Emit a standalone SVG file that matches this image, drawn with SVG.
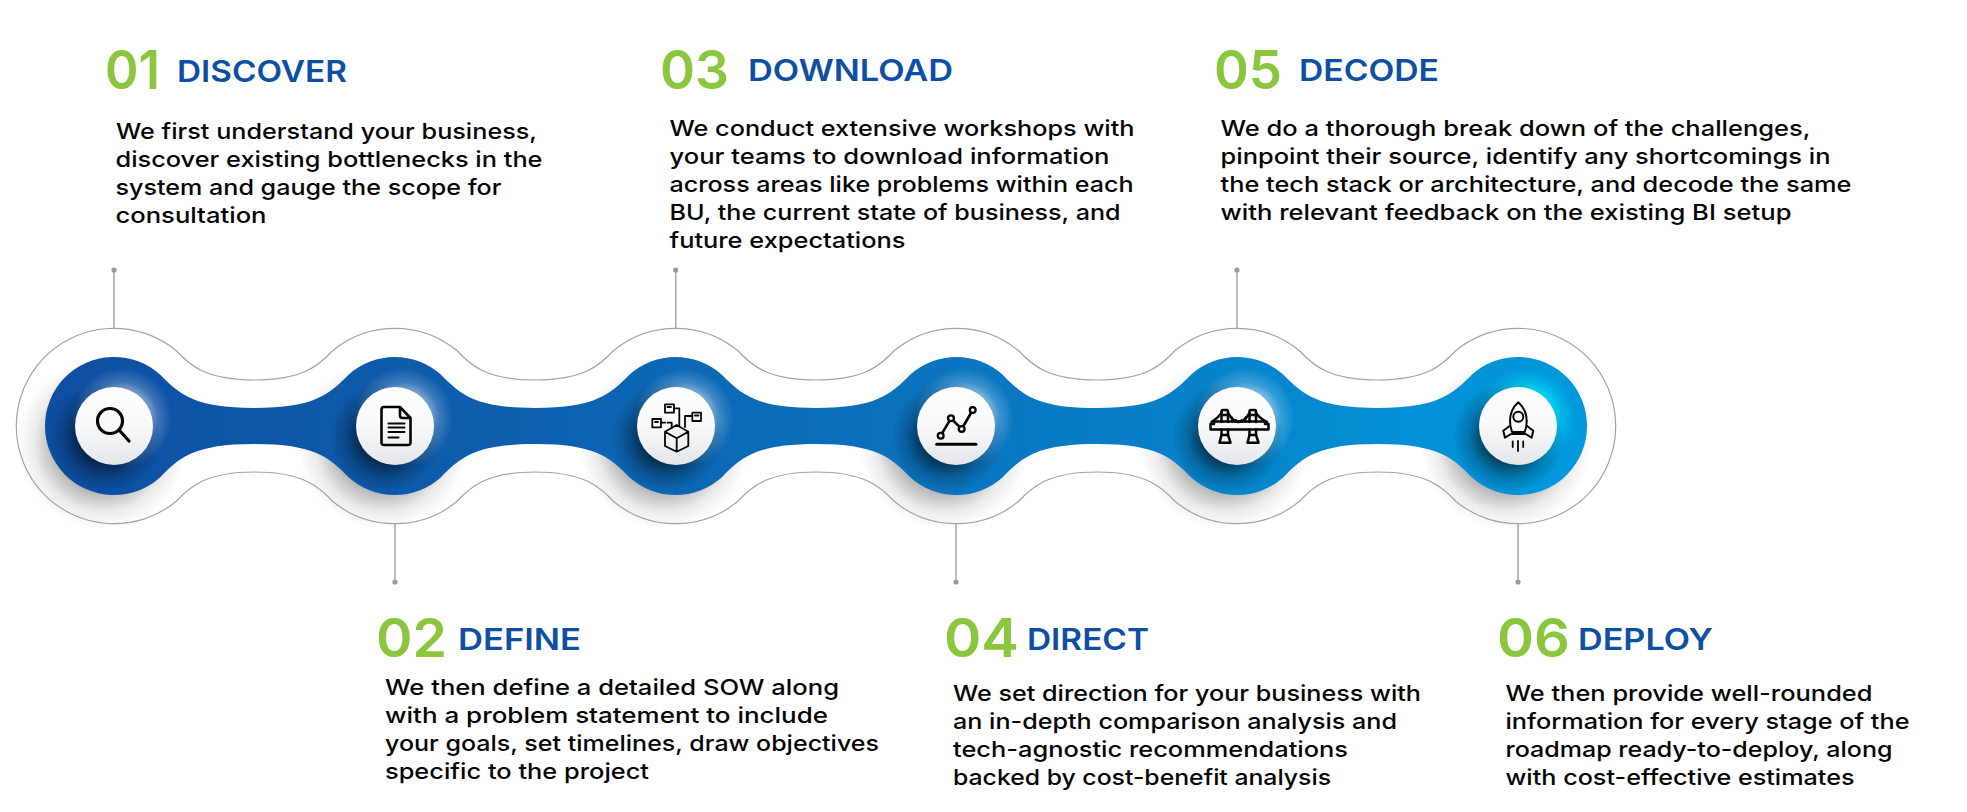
<svg xmlns="http://www.w3.org/2000/svg" width="1967" height="812" viewBox="0 0 1967 812">
<style>
text{font-family:"Inter","Open Sans","Liberation Sans",sans-serif}
.num{font-size:54px;font-weight:600;fill:#8cc63f}
.ttl{font-size:30px;font-weight:600;fill:#0f4fa3}
.txt{font-size:22px;font-weight:550;fill:#050505}
.lead{stroke:#a6a6a6;stroke-width:1.5;fill:none}
.dot{fill:#9a9a9a}
.ic{fill:none;stroke:#050505;stroke-width:2.6;stroke-linecap:round;stroke-linejoin:round}
.th{stroke-width:1.8}
.wh{fill:url(#disc)}
.dk{fill:url(#dark)}
.lt{fill:url(#light)}
.sh{fill:url(#shadow)}
</style>
<defs>
<linearGradient id="band" gradientUnits="userSpaceOnUse" x1="45" y1="0" x2="1587" y2="0">
<stop offset="0" stop-color="#0e4ea2"/><stop offset=".3" stop-color="#0d5fae"/><stop offset=".6" stop-color="#0a75c0"/><stop offset="1" stop-color="#0099dd"/>
</linearGradient>
<linearGradient id="disc" x1="0" y1="0" x2="0" y2="1"><stop offset="0" stop-color="#fff"/><stop offset=".5" stop-color="#f8f9fa"/><stop offset="1" stop-color="#e3e6ea"/></linearGradient>
<radialGradient id="dark"><stop offset=".45" stop-color="#000" stop-opacity=".55"/><stop offset=".72" stop-color="#000" stop-opacity=".2"/><stop offset="1" stop-color="#000" stop-opacity="0"/></radialGradient>
<radialGradient id="light"><stop offset=".45" stop-color="#fff" stop-opacity=".65"/><stop offset=".72" stop-color="#fff" stop-opacity=".2"/><stop offset="1" stop-color="#fff" stop-opacity="0"/></radialGradient>
<radialGradient id="cyan"><stop offset=".45" stop-color="#00f6ff" stop-opacity="1"/><stop offset=".72" stop-color="#00ddf5" stop-opacity=".45"/><stop offset="1" stop-color="#00c8f0" stop-opacity="0"/></radialGradient>
<radialGradient id="shadow"><stop offset=".58" stop-color="#000" stop-opacity=".27"/><stop offset=".8" stop-color="#000" stop-opacity=".08"/><stop offset="1" stop-color="#000" stop-opacity="0"/></radialGradient>
</defs>

<g id="shadows">
<circle class="sh" cx="102" cy="444" r="85"/><circle class="sh" cx="383" cy="444" r="85"/><circle class="sh" cx="664" cy="444" r="85"/><circle class="sh" cx="944" cy="444" r="85"/><circle class="sh" cx="1225" cy="444" r="85"/><circle class="sh" cx="1506" cy="444" r="85"/>
</g>
<path id="track-outline" fill="none" stroke="#a3a3a3" stroke-width="1.2" d="M176,350.5
c13,14 29,29.5 78.4,29.5 c49.4,0 65.4,-15.5 78.4,-29.5 a97.7,97.7 0 0 1 124,0
c13,14 29,29.5 78.4,29.5 c49.4,0 65.4,-15.5 78.4,-29.5 a97.7,97.7 0 0 1 124,0
c13,14 29,29.5 78.4,29.5 c49.4,0 65.4,-15.5 78.4,-29.5 a97.7,97.7 0 0 1 124,0
c13,14 29,29.5 78.4,29.5 c49.4,0 65.4,-15.5 78.4,-29.5 a97.7,97.7 0 0 1 124,0
c13,14 29,29.5 78.4,29.5 c49.4,0 65.4,-15.5 78.4,-29.5 a97.7,97.7 0 1 1 0,151
c-13,-14 -29,-29.5 -78.4,-29.5 c-49.4,0 -65.4,15.5 -78.4,29.5 a97.7,97.7 0 0 1 -124,0
c-13,-14 -29,-29.5 -78.4,-29.5 c-49.4,0 -65.4,15.5 -78.4,29.5 a97.7,97.7 0 0 1 -124,0
c-13,-14 -29,-29.5 -78.4,-29.5 c-49.4,0 -65.4,15.5 -78.4,29.5 a97.7,97.7 0 0 1 -124,0
c-13,-14 -29,-29.5 -78.4,-29.5 c-49.4,0 -65.4,15.5 -78.4,29.5 a97.7,97.7 0 0 1 -124,0
c-13,-14 -29,-29.5 -78.4,-29.5 c-49.4,0 -65.4,15.5 -78.4,29.5 a97.7,97.7 0 1 1 0,-151 z"/>
<path id="track" fill="url(#band)" d="M160,374.6
c20,20.4 35,33.4 94.4,33.4 c59.4,0 74.4,-13 94.4,-33.4 a69,69 0 0 1 92,0
c20,20.4 35,33.4 94.4,33.4 c59.4,0 74.4,-13 94.4,-33.4 a69,69 0 0 1 92,0
c20,20.4 35,33.4 94.4,33.4 c59.4,0 74.4,-13 94.4,-33.4 a69,69 0 0 1 92,0
c20,20.4 35,33.4 94.4,33.4 c59.4,0 74.4,-13 94.4,-33.4 a69,69 0 0 1 92,0
c20,20.4 35,33.4 94.4,33.4 c59.4,0 74.4,-13 94.4,-33.4 a69,69 0 1 1 0,102.8
c-20,-20.4 -35,-33.4 -94.4,-33.4 c-59.4,0 -74.4,13 -94.4,33.4 a69,69 0 0 1 -92,0
c-20,-20.4 -35,-33.4 -94.4,-33.4 c-59.4,0 -74.4,13 -94.4,33.4 a69,69 0 0 1 -92,0
c-20,-20.4 -35,-33.4 -94.4,-33.4 c-59.4,0 -74.4,13 -94.4,33.4 a69,69 0 0 1 -92,0
c-20,-20.4 -35,-33.4 -94.4,-33.4 c-59.4,0 -74.4,13 -94.4,33.4 a69,69 0 0 1 -92,0
c-20,-20.4 -35,-33.4 -94.4,-33.4 c-59.4,0 -74.4,13 -94.4,33.4 a69,69 0 1 1 0,-102.8 z"/>

<g id="connectors">
<path class="lead" d="M114,270V328"/><circle class="dot" cx="114" cy="270" r="2.6"/>
<path class="lead" d="M395,523V582"/><circle class="dot" cx="395" cy="582" r="2.6"/>
<path class="lead" d="M675.7,270V328"/><circle class="dot" cx="675.7" cy="270" r="2.6"/>
<path class="lead" d="M956,523V582"/><circle class="dot" cx="956" cy="582" r="2.6"/>
<path class="lead" d="M1237,270V328"/><circle class="dot" cx="1237" cy="270" r="2.6"/>
<path class="lead" d="M1518,523V582"/><circle class="dot" cx="1518" cy="582" r="2.6"/>
</g>

<g id="node-01">
<circle class="lt" cx="122" cy="418" r="50"/><circle class="dk" cx="105" cy="437" r="56"/><circle class="wh" cx="114" cy="426" r="39"/>
<circle class="ic" style="stroke-width:3.2" cx="110" cy="421" r="12.5"/><path class="ic" style="stroke-width:3.2" d="M119.5,430.5L129,441"/>
<text class="num" x="105" y="88.5" textLength="55" lengthAdjust="spacingAndGlyphs">01</text>
<text class="ttl" x="177" y="82" textLength="170" lengthAdjust="spacingAndGlyphs">DISCOVER</text>
<text class="txt" x="116" y="138.5" textLength="421" lengthAdjust="spacingAndGlyphs">We first understand your business,</text>
<text class="txt" x="115.5" y="166.5" textLength="427" lengthAdjust="spacingAndGlyphs">discover existing bottlenecks in the</text>
<text class="txt" x="115.5" y="195" textLength="386" lengthAdjust="spacingAndGlyphs">system and gauge the scope for</text>
<text class="txt" x="115.5" y="223" textLength="151" lengthAdjust="spacingAndGlyphs">consultation</text>
</g>

<g id="node-02">
<circle class="lt" cx="403" cy="418" r="50"/><circle class="dk" cx="386" cy="437" r="56"/><circle class="wh" cx="395" cy="426" r="39"/>
<path class="ic" d="M384,407H400L410.5,418V442.5a2.5,2.5 0 0 1 -2.5,2.5H384a2.5,2.5 0 0 1 -2.5,-2.5V409.5a2.5,2.5 0 0 1 2.5,-2.5ZM400,407V415.5a2.5,2.5 0 0 0 2.5,2.5H410.5"/>
<path class="ic" stroke-linecap="butt" d="M388.5,423.5H404.5M388.5,427.5H404.5M388.5,432H404.5M388.5,437.5H398.5" style="stroke-width:2"/>
<text class="num" x="376" y="657" textLength="71" lengthAdjust="spacingAndGlyphs">02</text>
<text class="ttl" x="458" y="650" textLength="123" lengthAdjust="spacingAndGlyphs">DEFINE</text>
<text class="txt" x="385" y="695" textLength="454" lengthAdjust="spacingAndGlyphs">We then define a detailed SOW along</text>
<text class="txt" x="385" y="723" textLength="443" lengthAdjust="spacingAndGlyphs">with a problem statement to include</text>
<text class="txt" x="385" y="751" textLength="494" lengthAdjust="spacingAndGlyphs">your goals, set timelines, draw objectives</text>
<text class="txt" x="385" y="779" textLength="264" lengthAdjust="spacingAndGlyphs">specific to the project</text>
</g>

<g id="node-03">
<circle class="lt" cx="684" cy="418" r="50"/><circle class="dk" cx="667" cy="437" r="56"/><circle class="wh" cx="676" cy="426" r="39"/>
<g class="ic th">
<path d="M676.7,425L665,431.7V446L676.7,451.7L688.3,446V431.7ZM665,431.7L676.7,438.3L688.3,431.7M676.7,438.3V451.7"/>
<rect x="665" y="404.3" width="9" height="8.4"/><rect x="652.3" y="419" width="8.7" height="8.3"/><rect x="692.3" y="412.7" width="8.7" height="8.3"/>
<path d="M674,408.3H679.3V425M692.3,416H685V427M661,422.7H665M667.5,422.7H671.7V428M667.5,407H671M655,422H658M695,415.5H698.5"/>
</g>
<text class="num" x="660" y="89" textLength="69" lengthAdjust="spacingAndGlyphs">03</text>
<text class="ttl" x="748" y="81" textLength="205" lengthAdjust="spacingAndGlyphs">DOWNLOAD</text>
<text class="txt" x="669.5" y="136" textLength="465" lengthAdjust="spacingAndGlyphs">We conduct extensive workshops with</text>
<text class="txt" x="669.5" y="164" textLength="440" lengthAdjust="spacingAndGlyphs">your teams to download information</text>
<text class="txt" x="669.5" y="192" textLength="464" lengthAdjust="spacingAndGlyphs">across areas like problems within each</text>
<text class="txt" x="669.5" y="220" textLength="451" lengthAdjust="spacingAndGlyphs">BU, the current state of business, and</text>
<text class="txt" x="669.5" y="248" textLength="236" lengthAdjust="spacingAndGlyphs">future expectations</text>
</g>

<g id="node-04">
<circle class="lt" cx="964" cy="418" r="50"/><circle class="dk" cx="947" cy="437" r="56"/><circle class="wh" cx="956" cy="426" r="39"/>
<path class="ic" d="M940.7,435.7L951,418.3L961.7,429L972.7,410"/>
<g class="ic" style="fill:#fff;stroke-width:2.3"><circle cx="940.7" cy="435.7" r="2.9"/><circle cx="951" cy="418.3" r="2.9"/><circle cx="961.7" cy="429" r="2.9"/><circle cx="972.7" cy="410" r="2.9"/></g>
<path class="ic" stroke-linecap="butt" style="stroke-width:3" d="M936.7,444.3H976"/>
<text class="num" x="944" y="657" textLength="75" lengthAdjust="spacingAndGlyphs">04</text>
<text class="ttl" x="1027" y="650" textLength="122" lengthAdjust="spacingAndGlyphs">DIRECT</text>
<text class="txt" x="953" y="701" textLength="468" lengthAdjust="spacingAndGlyphs">We set direction for your business with</text>
<text class="txt" x="953" y="729" textLength="444" lengthAdjust="spacingAndGlyphs">an in-depth comparison analysis and</text>
<text class="txt" x="953" y="757" textLength="395" lengthAdjust="spacingAndGlyphs">tech-agnostic recommendations</text>
<text class="txt" x="953" y="785" textLength="378" lengthAdjust="spacingAndGlyphs">backed by cost-benefit analysis</text>
</g>

<g id="node-05">
<circle class="lt" cx="1245" cy="418" r="50"/><circle class="dk" cx="1228" cy="437" r="56"/><circle class="wh" cx="1237" cy="426" r="39"/>
<g class="ic" style="stroke-width:2.5">
<path d="M1221.5,422V411.5a1.5,1.5 0 0 1 1.5,-1.5H1226.5a1.5,1.5 0 0 1 1.5,1.5V422M1221.5,415H1228M1221.5,429.5V435M1228,429.5V435M1249.5,422V411.5a1.5,1.5 0 0 1 1.5,-1.5H1254.5a1.5,1.5 0 0 1 1.5,1.5V422M1249.5,415H1256M1249.5,429.5V435M1256,429.5V435"/>
<path d="M1221.5,435H1228L1230.5,442.7H1219.5ZM1249.5,435H1256L1258.5,442.7H1247.5Z"/>
<path d="M1210.5,424H1214V421.5H1265V424H1268.5V429.5H1210.5Z"/>
<path d="M1221.5,413Q1217,419 1211.5,422M1256,413Q1260.5,419 1267,422M1228,413Q1238.7,431 1249.5,413"/>
<path d="M1232,417.5V422M1236,420V422M1238.7,421V422M1241.5,420V422M1245.5,417.5V422" style="stroke-width:1.8"/>
</g>
<text class="num" x="1214" y="89" textLength="68" lengthAdjust="spacingAndGlyphs">05</text>
<text class="ttl" x="1299" y="81" textLength="140" lengthAdjust="spacingAndGlyphs">DECODE</text>
<text class="txt" x="1220.5" y="136" textLength="590" lengthAdjust="spacingAndGlyphs">We do a thorough break down of the challenges,</text>
<text class="txt" x="1220.5" y="164" textLength="610" lengthAdjust="spacingAndGlyphs">pinpoint their source, identify any shortcomings in</text>
<text class="txt" x="1220.5" y="192" textLength="631" lengthAdjust="spacingAndGlyphs">the tech stack or architecture, and decode the same</text>
<text class="txt" x="1220.5" y="220" textLength="571" lengthAdjust="spacingAndGlyphs">with relevant feedback on the existing BI setup</text>
</g>

<g id="node-06">
<circle cx="1526" cy="418" r="50" fill="url(#cyan)"/><circle class="dk" cx="1509" cy="437" r="56"/><circle class="wh" cx="1518" cy="426" r="39"/>
<g class="ic" style="stroke-width:2">
<path d="M1518.3,402.3C1513,407 1510,413 1510,421C1510,425 1511,429 1512,432H1524.7C1526,429 1526.7,425 1526.7,421C1526.7,413 1523.5,407 1518.3,402.3Z"/>
<circle cx="1518.3" cy="416.7" r="5"/>
<path d="M1509.6,426L1503.3,430.7L1505,437.7L1511,434H1525.7L1531.6,437.7L1533.3,430.7L1527,426"/>
<path d="M1512.7,441.5V447M1518,441V451M1523.2,441.5V447" style="stroke-width:1.8"/>
</g>
<text class="num" x="1497" y="657" textLength="73" lengthAdjust="spacingAndGlyphs">06</text>
<text class="ttl" x="1578" y="650" textLength="135" lengthAdjust="spacingAndGlyphs">DEPLOY</text>
<text class="txt" x="1505.5" y="701" textLength="367" lengthAdjust="spacingAndGlyphs">We then provide well-rounded</text>
<text class="txt" x="1505.5" y="729" textLength="404" lengthAdjust="spacingAndGlyphs">information for every stage of the</text>
<text class="txt" x="1505.5" y="757" textLength="387" lengthAdjust="spacingAndGlyphs">roadmap ready-to-deploy, along</text>
<text class="txt" x="1505.5" y="785" textLength="349" lengthAdjust="spacingAndGlyphs">with cost-effective estimates</text>
</g>
</svg>
